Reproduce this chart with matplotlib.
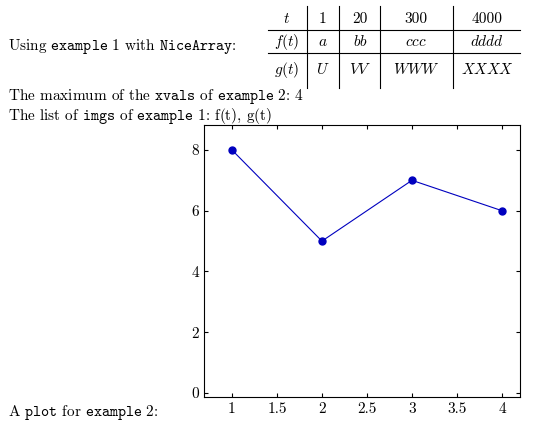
import matplotlib.pyplot as plt
from matplotlib.lines import Line2D

plt.rcParams.update({
    "font.family": "cmr10",
    "mathtext.fontset": "cm",
    "axes.formatter.use_mathtext": True,
    "font.size": 11,
})

# table content
col_heads = ["$t$", "1", "20", "300", "4000"]
row_f = ["$f(t)$", "$a$", "$bb$", "$ccc$", "$dddd$"]
row_g = ["$g(t)$", "$U$", "$VV$", "$WWW$", "$XXXX$"]

# plot data
xvals = [1, 2, 3, 4]
yvals = [8, 5, 7, 6]

W, H = 540, 432
fig = plt.figure(figsize=(5.4, 4.32), dpi=100)

def px(x, y):
    return x / W, 1 - y / H

def tt(s):
    return r"$\mathtt{" + s.replace(" ", r"\ ") + "}$"

# document text
fig.text(*px(8, 47), "Using " + tt("example 1") + " with " + tt("NiceArray") + ":", va="center")
fig.text(*px(8, 96), "The maximum of the " + tt("xvals") + " of " + tt("example 2") + ": 4", va="center")
fig.text(*px(8, 116), "The list of " + tt("imgs") + " of " + tt("example 1") + ": f(t), g(t)", va="center")
fig.text(*px(8, 412), "A " + tt("plot") + " for " + tt("example 2") + ":", va="center")

# table
col_centers = [287, 323, 360, 416, 487]
row_y = [19, 42, 70]
for row, y in zip([col_heads, row_f, row_g], row_y):
    for s, x in zip(row, col_centers):
        fig.text(*px(x, y), s, ha="center", va="center")
for x in [307, 339, 380, 453]:
    fig.add_artist(Line2D([x / W] * 2, [1 - 6 / H, 1 - 88 / H], color="black", lw=0.8))
for y in [30, 53]:
    fig.add_artist(Line2D([268 / W, 520 / W], [1 - y / H] * 2, color="black", lw=0.8))

# plot
ax = fig.add_axes([204 / W, 1 - 397 / H, 316 / W, 272 / H])
ax.plot(xvals, yvals, color="#0000bf", lw=0.8, marker="o", ms=5)
ax.set_xlim(0.69, 4.2)
ax.set_ylim(-0.13, 8.82)
ax.set_xticks([1, 1.5, 2, 2.5, 3, 3.5, 4])
ax.set_xticklabels(["1", "1.5", "2", "2.5", "3", "3.5", "4"])
ax.set_yticks([0, 2, 4, 6, 8])
ax.set_yticklabels(["0", "2", "4", "6", "8"])
ax.tick_params(direction="in", top=True, right=True, length=3, labelsize=11)
for s in ax.spines.values():
    s.set_linewidth(0.8)

fig.savefig("out.png", dpi=100)
